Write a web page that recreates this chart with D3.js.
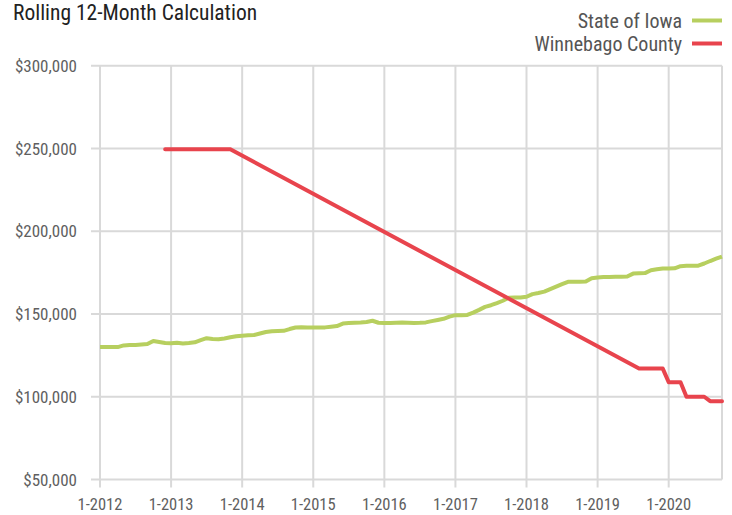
<!DOCTYPE html>
<html>
<head>
<meta charset="utf-8">
<script src="https://cdn.jsdelivr.net/npm/d3@7"></script>
<style>
  html, body { margin: 0; padding: 0; background: #fff; }
  svg { display: block; }
  text { font-family: "Liberation Sans Narrow", "Roboto Condensed", "Arial Narrow", sans-serif; }
</style>
</head>
<body>
<svg id="chart" width="732" height="515"></svg>
<script>
// ---- Data ----
const title = "Rolling 12-Month Calculation";
const seriesNames = ["State of Iowa", "Winnebago County"];
const seriesColors = ["#b7cf5f", "#e8444d"];
const xTickLabels = ["1-2012","1-2013","1-2014","1-2015","1-2016","1-2017","1-2018","1-2019","1-2020"];
const xTickMonths = [0, 12, 24, 36, 48, 60, 72, 84, 96];
const yTicks = [50000, 100000, 150000, 200000, 250000, 300000];
const monthCount = 106; // 1-2012 .. 10-2020

// State of Iowa, monthly (index 0 = 1-2012)
const iowaValues = [
  130000,130000,130000,130000,131000,131200,131300,131600,131800,133700,133100,132500,
  132300,132600,132200,132500,132900,134200,135400,134900,134800,135200,135900,136500,
  136900,137100,137300,138200,139100,139600,139700,139800,140900,141800,142000,141900,
  141800,141800,141900,142300,142700,144200,144500,144700,144900,145200,145900,144700,
  144600,144600,144700,144800,144700,144600,144700,144900,145700,146400,147100,148400,
  149300,149300,149400,150800,152500,154300,155300,156600,158000,159800,160000,160000,
  160400,162000,162700,163500,165000,166500,168000,169400,169500,169400,169600,171600,
  172100,172400,172400,172500,172500,172600,174400,174600,174700,176400,177000,177500,
  177500,177600,178900,179100,179100,179200,180500,182000,183400,184700
];

// Winnebago County: reported points [month index, value]
const winnebagoMonths = [11, 22, 91, 95, 96, 98, 99, 102, 103, 105];
const winnebagoValues = [249500, 249500, 117000, 117000, 108800, 108800, 100000, 100000, 97300, 97300];

// ---- Chart ----
const svg = d3.select("#chart");
const plotLeft = 100, plotRight = 722, plotTop = 65.7, plotBottom = 479.5;

const x = d3.scaleLinear().domain([0, monthCount - 1]).range([plotLeft, plotRight]);
const y = d3.scaleLinear().domain([50000, 300000]).range([plotBottom, plotTop]);

const gridColor = "#d9d9d9";
const labelColor = "#606060";

// horizontal grid (extends left as ticks)
svg.append("g").selectAll("line").data(yTicks).join("line")
  .attr("x1", plotLeft - 9).attr("x2", plotRight)
  .attr("y1", d => y(d)).attr("y2", d => y(d))
  .attr("stroke", gridColor).attr("stroke-width", 2);

// vertical grid (extends below as ticks)
svg.append("g").selectAll("line").data(xTickMonths).join("line")
  .attr("x1", d => x(d)).attr("x2", d => x(d))
  .attr("y1", plotTop).attr("y2", plotBottom + 8)
  .attr("stroke", gridColor).attr("stroke-width", 2);

// right border
svg.append("line")
  .attr("x1", x(monthCount - 1)).attr("x2", x(monthCount - 1))
  .attr("y1", plotTop).attr("y2", plotBottom)
  .attr("stroke", gridColor).attr("stroke-width", 2);

// y labels
const fmt = d3.format("$,");
svg.append("g").selectAll("text").data(yTicks).join("text")
  .attr("x", 77).attr("y", d => y(d)).attr("dy", "0.36em")
  .attr("text-anchor", "end")
  .attr("font-size", 17).attr("fill", labelColor)
  .text(d => fmt(d));

// x labels
svg.append("g").selectAll("text").data(xTickMonths).join("text")
  .attr("x", d => x(d)).attr("y", 510)
  .attr("text-anchor", "middle")
  .attr("font-size", 16.5).attr("fill", labelColor)
  .text((d, i) => xTickLabels[i]);

// lines
const line = d3.line().x(d => x(d[0])).y(d => y(d[1])).curve(d3.curveLinear);

const iowaData = iowaValues.map((v, i) => [i, v]);
const winData = winnebagoMonths.map((m, i) => [m, winnebagoValues[i]]);

svg.append("path").datum(iowaData)
  .attr("d", line).attr("fill", "none")
  .attr("stroke", seriesColors[0]).attr("stroke-width", 4)
  .attr("stroke-linejoin", "round").attr("stroke-linecap", "butt");

svg.append("path").datum(winData)
  .attr("d", line).attr("fill", "none")
  .attr("stroke", seriesColors[1]).attr("stroke-width", 4)
  .attr("stroke-linejoin", "round").attr("stroke-linecap", "round");

// title
svg.append("text")
  .attr("x", 13).attr("y", 20)
  .attr("font-size", 21.5).attr("fill", "#222")
  .text(title);

// legend
const legY = [20.5, 43.5];
const lg = svg.append("g");
seriesNames.forEach((name, i) => {
  lg.append("text")
    .attr("x", 682).attr("y", legY[i]).attr("dy", "0.36em")
    .attr("text-anchor", "end")
    .attr("font-size", 20).attr("fill", "#555")
    .text(name);
  lg.append("line")
    .attr("x1", 692).attr("x2", 722)
    .attr("y1", legY[i]).attr("y2", legY[i])
    .attr("stroke", seriesColors[i]).attr("stroke-width", 4);
});
</script>
</body>
</html>
